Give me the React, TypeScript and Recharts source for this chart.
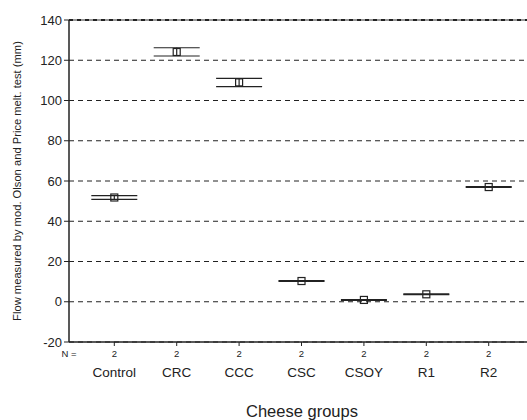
import React from "react";
import {
  ScatterChart,
  Scatter,
  XAxis,
  YAxis,
  CartesianGrid,
  ErrorBar,
  ReferenceLine,
} from "recharts";

const categories = ["Control", "CRC", "CCC", "CSC", "CSOY", "R1", "R2"];
const nValues = [2, 2, 2, 2, 2, 2, 2];
const means = [51.8, 124.1, 109.0, 10.3, 0.9, 3.7, 57.0];
const lowerCI = [50.9, 122.1, 106.9, 10.1, 0.7, 3.5, 56.8];
const upperCI = [52.7, 126.2, 111.0, 10.5, 1.1, 3.9, 57.2];
const yTicks = [-20, 0, 20, 40, 60, 80, 100, 120, 140];

const data = categories.map((c, i) => ({
  x: i,
  name: c,
  y: means[i],
  err: [means[i] - lowerCI[i], upperCI[i] - means[i]],
}));

const FONT = "'Liberation Sans', Arial, sans-serif";
const INK = "#222";

const SquareMarker = (props: any) => {
  const { cx, cy } = props;
  if (cx == null || cy == null) return null;
  return (
    <rect
      x={cx - 3.5}
      y={cy - 3.5}
      width={7}
      height={7}
      fill="none"
      stroke={INK}
      strokeWidth={1.2}
    />
  );
};

const CatTick = (props: any) => {
  const { x, y, payload } = props;
  const i = payload.value as number;
  return (
    <g>
      <text x={x} y={y} dy={11} textAnchor="middle" fontSize={9.5} fill={INK} fontFamily={FONT}>
        {nValues[i]}
      </text>
      <text x={x} y={y} dy={31} textAnchor="middle" fontSize={13.5} fill={INK} fontFamily={FONT}>
        {categories[i]}
      </text>
    </g>
  );
};

const XLabels = (props: any) => {
  const vb = props.viewBox || {};
  const x0 = vb.x ?? 69;
  const y0 = vb.y ?? 342;
  return (
    <g>
      <text x={x0} y={y0 + 15} textAnchor="middle" fontSize={9.5} fill={INK} fontFamily={FONT}>
        N =
      </text>
      <text x={302} y={y0 + 75} textAnchor="middle" fontSize={16.5} fill={INK} fontFamily={FONT}>
        Cheese groups
      </text>
    </g>
  );
};

export default function App() {
  return (
    <div
      style={{
        position: "absolute",
        left: 0,
        top: 0,
        width: 527,
        height: 420,
        background: "#fff",
        overflow: "hidden",
      }}
    >
      <ScatterChart
        width={545}
        height={420}
        margin={{ top: 20, right: 0, bottom: 0, left: 0 }}
        style={{ fontFamily: FONT }}
      >
        <CartesianGrid horizontal vertical={false} stroke={INK} strokeDasharray="5 4" strokeWidth={1} />
        <XAxis
          type="number"
          dataKey="x"
          domain={[-0.726, 6.902]}
          allowDataOverflow
          ticks={[0, 1, 2, 3, 4, 5, 6]}
          tick={<CatTick />}
          tickSize={4}
          tickMargin={0}
          height={78}
          axisLine={{ stroke: INK, strokeWidth: 1.5 }}
          tickLine={{ stroke: INK }}
          label={<XLabels />}
        />
        <YAxis
          type="number"
          dataKey="y"
          domain={[-20, 140]}
          ticks={yTicks}
          width={69}
          tickSize={5}
          tickMargin={2}
          axisLine={{ stroke: INK, strokeWidth: 1.5 }}
          tickLine={{ stroke: INK }}
          tick={{ fill: INK, fontSize: 13, fontFamily: FONT }}
          label={{
            value: "Flow measured by mod. Olson and Price melt. test (mm)",
            angle: -90,
            position: "insideLeft",
            offset: 0,
            dx: 17,
            dy: 0,
            style: { fontSize: 11.2, fill: INK, fontFamily: FONT, textAnchor: "middle" },
          }}
        />
        <ReferenceLine y={140} stroke="#999" strokeWidth={2} />
        <ReferenceLine y={140} stroke={INK} strokeWidth={2} strokeDasharray="4 4" />
        <Scatter data={data} shape={<SquareMarker />} isAnimationActive={false}>
          <ErrorBar dataKey="err" direction="y" width={23} stroke={INK} strokeWidth={1.2} />
        </Scatter>
      </ScatterChart>
    </div>
  );
}
